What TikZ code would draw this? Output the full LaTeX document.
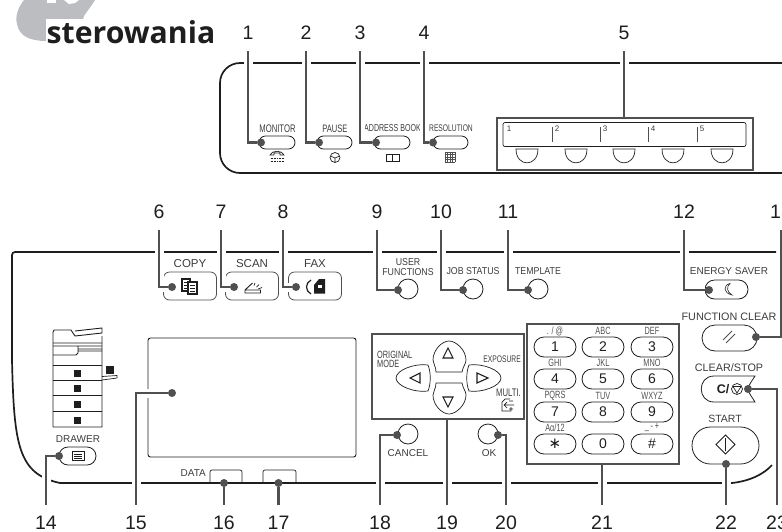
\documentclass[tikz,border=0pt]{standalone}
\usepackage{fontspec}
\setmainfont{Liberation Sans}
\newfontfamily\narrowsf[FakeStretch=.7]{Liberation Sans}
\newfontfamily\midsf[FakeStretch=.88]{Liberation Sans}
\newfontfamily\titlesf{Open Sans}
\newfontfamily\symsf{DejaVu Sans}
\usetikzlibrary{shapes.misc}
\definecolor{leadc}{HTML}{505050}
\definecolor{labc}{HTML}{3C3C3C}
\definecolor{blobc}{HTML}{BCBDC0}
\definecolor{linec}{HTML}{1E1E1E}
\tikzset{
  num/.style={font=\fontsize{19.5}{20}\selectfont,text=linec,inner sep=0pt,minimum height=36pt,minimum width=12pt},
  lead/.style={leadc,line width=2.2pt,preaction={draw=white,line width=9pt}},
  dotn/.style={circle,fill=leadc,inner sep=0pt,minimum size=8pt},
  pill/.style={draw=linec,line width=.8pt,rounded rectangle,inner sep=0pt},
  keyn/.style={pill,minimum width=42pt,minimum height=20pt,font=\fontsize{14}{14}\selectfont,text=linec},
  roundb/.style={circle,draw=linec,line width=.8pt,inner sep=0pt,minimum size=20pt},
  modeb/.style={draw=leadc,line width=.8pt,rounded corners=6pt,inner sep=0pt,minimum width=53pt,minimum height=28pt},
  frame/.style={draw=leadc,line width=2.4pt,inner sep=0pt},
  panel/.style={linec,line width=1.7pt},
  thin/.style={linec,line width=.7pt},
  labn/.style={font=\fontsize{10}{10}\selectfont,text=labc,inner sep=0pt},
  labm/.style={font=\midsf\fontsize{10}{10}\selectfont,text=labc,inner sep=0pt},
  labs/.style={font=\narrowsf\fontsize{10.5}{10.5}\selectfont,text=labc,inner sep=0pt},
  labk/.style={font=\narrowsf\fontsize{10.5}{10.5}\selectfont,text=leadc,inner sep=0pt},
  labb/.style={font=\fontsize{11.5}{11.5}\selectfont,text=labc,inner sep=0pt}
}
\begin{document}
\begin{tikzpicture}[x=1pt,y=-1pt]
  \useasboundingbox (0,0) rectangle (782,531);
  \clip (0,0) rectangle (782,531);
  % heading
  \fill[blobc] (24,0) .. controls (18,8) and (15,16) .. (17,24) .. controls (19,36) and (30,41) .. (46,41)
    -- (80,30) -- (84,16) .. controls (88,10) and (92,5) .. (95,0) -- cycle;
  \fill[white] (47,0) -- (56,0) -- (56,3) -- (47,3) -- cycle;
  \fill[white] (64,0) -- (69,4) -- (75,3) -- (79,0) -- cycle;
  \node[fill=white,inner sep=1pt,font=\titlesf\bfseries\fontsize{30.2}{31}\selectfont,text=linec,anchor=base west] (title) at (45.5,43) {sterowania};
  % panels
  \draw[panel,rounded corners=20pt] (790,63) -- (220,63) -- (220,173) -- (790,173);
  \draw[panel,rounded corners=3pt] (776,252) -- (12,252) -- (12,360);
  \draw[panel] (12,360) .. controls (14,445) and (18,474) .. (60,483) -- (732,483) .. controls (750,481) and (764,474) .. (772,465);
  \draw[panel,line width=2pt] (210,483) -- (242,483) (263,483) -- (296,483);
  \node[draw=linec,line width=.9pt,rounded corners=2.5pt,inner sep=0pt,minimum width=208pt,minimum height=119pt] (screen) at (252,397.5) {};
  % upper row
  \node[pill,minimum width=36pt,minimum height=13pt] (monitor) at (277,142.5) {};
  \node[pill,minimum width=35pt,minimum height=13pt] (pause) at (334.5,142.5) {};
  \node[pill,minimum width=36pt,minimum height=13pt] (address) at (392,142.5) {};
  \node[pill,minimum width=35pt,minimum height=13pt] (resol) at (450.5,142.5) {};
  \node[labs,font=\narrowsf\fontsize{11}{11}\selectfont] (lmonitor) at (277.5,128.5) {MONITOR};
  \node[labs,font=\narrowsf\fontsize{10.8}{11}\selectfont] (lpause) at (335,128.5) {PAUSE};
  \node[labs,font=\narrowsf\fontsize{10.1}{11}\selectfont] (laddress) at (392.5,128.5) {ADDRESS BOOK};
  \node[labs,font=\narrowsf\fontsize{9.6}{10}\selectfont] (lresol) at (451,128.5) {RESOLUTION};
  \node[frame,minimum width=256pt,minimum height=52pt] (onetouch) at (625,144) {};
  \node[thin,draw,rounded corners=2pt,inner sep=0pt,minimum width=243pt,minimum height=24pt] (onedisp) at (624.5,134.5) {};
  \node[font=\fontsize{8}{8}\selectfont,text=labc,inner sep=0pt] (o1) at (509,128.5) {1};
  \foreach \xx/\ii in {552/2,600/3,648/4,697/5} {
    \draw[leadc,line width=1pt] (\xx,127) -- (\xx,142);
    \node[font=\fontsize{8}{8}\selectfont,text=labc,inner sep=0pt] (o\ii) at (\xx+5,129) {\ii};
  }
  \foreach \xx in {527,576,624,673,722}
    \draw[thin] (\xx-11,149) .. controls (\xx-11,167.5) and (\xx+11,167.5) .. (\xx+11,149) -- cycle;
  % small icons
  \draw[thin] (270,155) .. controls (272,150) and (282,150) .. (284,155) -- (280,155) -- (280,153) -- (274,153) -- (274,155) -- cycle;
  \draw[thin,dash pattern=on 1pt off .6pt] (270.5,158.5) -- (284,158.5) (270.5,161) -- (284,161);
  \draw[thin] (335,157.5) circle (5pt) (330.5,156) -- (335,158) -- (339.5,156) (335,158) -- (335,162.5);
  \draw[thin] (392.5,154.5) -- (386.5,154.5) -- (386.5,161) -- (392.5,161) -- cycle (392.5,154.5) -- (399,154.5) -- (399,161) -- (392.5,161);
  \foreach \ii in {0,2.5,5,7.5,10} {
    \draw[leadc,line width=.5pt] (445+\ii,152) -- (445+\ii,162);
    \draw[leadc,line width=.5pt] (445,152+\ii) -- (455,152+\ii);
  }
  % mode keys
  \node[modeb] (copy) at (190,286) {};
  \node[modeb] (scan) at (252,286) {};
  \node[modeb] (fax) at (315,286) {};
  \node[labb] (lcopy) at (190,264) {COPY};
  \node[labb] (lscan) at (252,264) {SCAN};
  \node[labb] (lfax) at (315,264) {FAX};
  \draw[linec,line width=1.1pt,fill=white] (182,279) rectangle (190,291);
  \draw[linec,line width=1.1pt,fill=white] (188,282) rectangle (197,294);
  \draw[linec,line width=1pt] (183.5,282) -- (186.5,282) (183.5,285) -- (186.5,285) (183.5,288) -- (186.5,288) (190,285) -- (195,285) (190,288) -- (195,288) (190,291) -- (195,291);
  \draw[thin,line width=.9pt] (245,293) -- (260.5,293) -- (260.5,290) -- (245,290) -- cycle (245,290) -- (252.5,283);
  \draw[thin] (254,285.5) -- (255,283) (256.5,287) -- (259,284.5) (258,289) -- (262,287.5);
  \draw[linec,line width=1.2pt] (311,280) .. controls (305,283) and (305,291) .. (311,294);
  \fill[linec] (314,285) -- (319,279) -- (325,279) -- (325,293.5) -- (314,293.5) -- cycle;
  \fill[white] (318,285) rectangle (322,288);
  % function keys
  \node[roundb] (userf) at (408,289) {};
  \node[roundb] (jobst) at (473,289) {};
  \node[roundb] (templ) at (538,289) {};
  \node[labm,align=center,font=\midsf\fontsize{10}{9.5}\selectfont] (luserf) at (408,267) {USER\\FUNCTIONS};
  \node[labm] (ljobst) at (473,271) {JOB STATUS};
  \node[labm] (ltempl) at (538,271) {TEMPLATE};
  \node[pill,minimum width=43pt,minimum height=19pt] (energy) at (726.5,289.5) {};
  \node[labn] (lenergy) at (729,271) {ENERGY SAVER};
  \draw[linec,line width=.6pt] (730,283.5) .. controls (723,285) and (723,293) .. (732,295) .. controls (727,292) and (726,287) .. cycle;
  \node[pill,minimum width=55pt,minimum height=26pt] (fclear) at (729.5,338) {};
  \node[labn,font=\fontsize{10.8}{11}\selectfont] (lfclear) at (729,317) {FUNCTION CLEAR};
  \draw[leadc,line width=.8pt] (723,340) -- (732,331) (726,343) -- (735,334);
  \node[labn,font=\fontsize{10.8}{11}\selectfont] (lclear) at (729,368) {CLEAR/STOP};
  \draw[linec,line width=.8pt] (755,376) -- (714,376) .. controls (697,376) and (697,402) .. (714,402) -- (755,402)
    .. controls (752,397) and (749,394) .. (748,389) .. controls (749,384) and (752,381) .. cycle;
  \node[font=\bfseries\fontsize{12.5}{13}\selectfont,text=linec,inner sep=0pt] (cslash) at (723,389) {C/};
  \draw[thin] (737,389) circle (5.5pt) (733,386.5) -- (741,386.5) -- (737,393) -- cycle;
  \node[pill,minimum width=67pt,minimum height=37pt] (start) at (725.5,445.5) {};
  \node[labn,font=\fontsize{10.5}{11}\selectfont] (lstart) at (725,419) {START};
  \draw[thin,line width=.9pt] (725.5,435) -- (735,444.5) -- (725.5,454) -- (716,444.5) -- cycle (725.5,438) -- (725.5,451);
  % cursor keys
  \node[frame,minimum width=152pt,minimum height=85pt] (cursor) at (448,376.5) {};
  \node[frame,minimum width=152pt,minimum height=140pt] (keypad) at (603,394) {};
  \draw[thin] (436,372) -- (462,372) .. controls (463,366) and (466,364) .. (466,360) .. controls (466,350) and (456,341) .. (449,341) .. controls (442,341) and (433,350) .. (433,360) .. controls (433,364) and (436,366) .. cycle;
  \draw[thin] (436,383) -- (462,383) .. controls (463,389) and (466,391) .. (466,395) .. controls (466,405) and (456,414) .. (449,414) .. controls (442,414) and (433,405) .. (433,395) .. controls (433,391) and (436,389) .. cycle;
  \draw[thin] (428,365) .. controls (431,372) and (431,384) .. (428,391) .. controls (415,393) and (396,386) .. (396,378) .. controls (396,370) and (415,363) .. cycle;
  \draw[thin] (469,365) .. controls (466,372) and (466,384) .. (469,391) .. controls (482,393) and (501,386) .. (501,378) .. controls (501,370) and (482,363) .. cycle;
  \draw[linec,line width=1.1pt] (443,358) -- (453,358) -- (448,348) -- cycle;
  \draw[linec,line width=1.1pt] (443,397) -- (453,397) -- (448,407) -- cycle;
  \draw[linec,line width=1.1pt] (420,373) -- (420,383) -- (410,378) -- cycle;
  \draw[linec,line width=1.1pt] (477,373) -- (477,383) -- (488,378) -- cycle;
  \node[labs,align=left,anchor=north west,font=\narrowsf\fontsize{10.5}{9}\selectfont] (lorig) at (377,351) {ORIGINAL\\MODE};
  \node[labs,font=\narrowsf\fontsize{9.6}{10}\selectfont,anchor=east] (lexpo) at (521,359) {EXPOSURE};
  \node[labs,font=\narrowsf\fontsize{11}{11}\selectfont,anchor=east] (lmulti) at (521,393) {MULTI.};
  \draw[thin] (510,399) -- (505,399) -- (502,402) -- (502,411) -- (511,411) -- (511,407) (504,405) -- (514,405) (507,402) -- (504,405) -- (507,408) (509,401) -- (513,401) (509,409) -- (513,409);
  % keypad
  \foreach \xx/\yy/\ii/\dig/\sub in {555/347/1/1/{. / @},603/347/2/2/ABC,652/347/3/3/DEF,
      555/379/4/4/GHI,603/379/5/5/JKL,652/379/6/6/MNO,
      555/412/7/7/PQRS,603/412/8/8/TUV,652/412/9/9/WXYZ,
      555/444/10/{\symsf\fontsize{15}{15}\selectfont ∗}/Aα{/}12,603/444/11/0/{},652/444/12/\#/{\_\,-\,+}} {
    \node[keyn] (k\ii) at (\xx,\yy) {\dig};
    \node[labk] (s\ii) at (\xx,\yy-16) {\sub};
  }
  \node[roundb] (cancel) at (408,434) {};
  \node[roundb] (ok) at (488,434) {};
  \node[labn] (lcancel) at (408,453) {CANCEL};
  \node[labn] (lok) at (489,453) {OK};
  % drawer and machine
  \node[labn] (ldrawer) at (78,439) {DRAWER};
  \node[pill,minimum width=37pt,minimum height=18pt] (drawer) at (77.5,456) {};
  \draw[thin] (72,451.5) rectangle (84,460.5) (74,454) -- (82,454) (74,456) -- (82,456) (74,458) -- (82,458);
  \draw[thin,line width=.9pt] (53,427) -- (53,332) -- (54,330) -- (71,330) -- (75,336) -- (102,333) -- (102,328) -- (75,331) (102,336) -- (102,427) -- (53,427);
  \draw[thin,line width=.9pt] (53,343) -- (102,343) (53,346) -- (102,346) (78,346) -- (78,353) -- (76,355) -- (53,355) (78,349) -- (102,349) (78,351) -- (102,351);
  \foreach \yy in {365,380.5,395.5,411.5}
    \draw[thin,line width=.9pt] (53,\yy) -- (102,\yy);
  \foreach \yy in {373,388,404,420}
    \fill[linec] (74,\yy-3.5) rectangle (81,\yy+3.5);
  \fill[linec] (106,366) rectangle (113.5,373.5);
  \draw[thin] (102,376.5) -- (117,375.5) -- (117,378) -- (102,380);
  % data lamps
  \draw[thin,rounded corners=2pt] (210,483) -- (210,470) -- (242,470) -- (242,483);
  \draw[thin,rounded corners=2pt] (263,483) -- (263,470) -- (296,470) -- (296,483);
  \node[labn,anchor=east] (ldata) at (206,473.5) {DATA};
  % dots
  \node[dotn] (d1) at (261,142.5) {};
  \node[dotn] (d2) at (319,142.5) {};
  \node[dotn] (d3) at (376,142.5) {};
  \node[dotn] (d4) at (433,142.5) {};
  \node[dotn] (d6) at (172,287) {};
  \node[dotn] (d7) at (234,287) {};
  \node[dotn] (d8) at (296,287) {};
  \node[dotn] (d9) at (398,290) {};
  \node[dotn] (d10) at (463,290) {};
  \node[dotn] (d11) at (528,290) {};
  \node[dotn] (d12) at (709,290) {};
  \node[dotn] (d13) at (756,337) {};
  \node[dotn] (d14) at (59,456) {};
  \node[dotn] (d15) at (172,393) {};
  \node[dotn] (d16) at (224,483) {};
  \node[dotn] (d17) at (278.5,483) {};
  \node[dotn] (d18) at (397,435) {};
  \node[dotn] (d20) at (498,435) {};
  \node[dotn] (d22) at (726,464) {};
  \node[dotn] (d23) at (748,389) {};
  % numbers
  \foreach \xx/\ii in {248/1,306/2,360/3,424/4,624/5}
    \node[num] (n\ii) at (\xx,33) {\ii};
  \foreach \xx/\ii in {159/6,221/7,283/8,377/9,441/10,508/11,684/12,781/13}
    \node[num] (n\ii) at (\xx,212) {\ii};
  \foreach \xx/\ii in {46/14,136/15,224/16,278.5/17,380/18,447/19,506/20,602/21,726/22,777/23}
    \node[num] (n\ii) at (\xx,523) {\ii};
  % leaders
  \foreach \ii in {1,2,3,4,6,7,8,9,10,11,12,13,14,15,18,20,23}
    \draw[lead] (n\ii) |- (d\ii);
  \foreach \ii in {16,17,22}
    \draw[lead] (n\ii) -- (d\ii);
  \draw[lead] (n5) -- (n5 |- onetouch.north);
  \draw[lead] (n19) -- (n19 |- cursor.south);
  \draw[lead] (n21) -- (n21 |- keypad.south);
\end{tikzpicture}
\end{document}
